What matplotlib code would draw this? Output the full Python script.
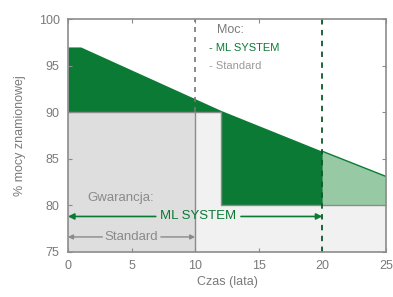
import matplotlib.pyplot as plt

# power curve of the ML SYSTEM module (% of rated power)
curve_years = [0, 1, 12, 20, 25]
ml_power = [97, 97, 90.2, 85.8, 83.1]

# guarantee levels
std_years = [0, 10, 25]
std_levels = [90, 80]
ml_years = [0, 12, 25]
ml_levels = [90, 80]
ml_arrow_end = 20

x_ticks = [0, 5, 10, 15, 20, 25]
y_ticks = [75, 80, 85, 90, 95, 100]

GREEN = "#0a7a34"
LIGHT_GREEN = "#96c9a4"
GRAY_DARK = "#dedede"
GRAY_LIGHT = "#f1f1f1"
EDGE = "#8c8c8c"
TEXT = "#7a7a7a"

plt.rcParams["font.family"] = ["Liberation Sans", "DejaVu Sans"]
plt.rcParams["font.size"] = 9

fig = plt.figure(figsize=(3.93, 2.97), dpi=100)
ax = fig.add_axes([0.173, 0.152, 0.809, 0.784])

# gray guarantee areas
ax.fill_between(std_years[0:2], 75, std_levels[0], color=GRAY_DARK, lw=0)
ax.fill_between([std_years[1], ml_years[1]], 75, ml_levels[0], color=GRAY_LIGHT, lw=0)
ax.fill_between(ml_years[1:3], 75, ml_levels[1], color=GRAY_LIGHT, lw=0)

# green surplus above ML guarantee
ax.fill_between(curve_years[0:3], ml_levels[0], ml_power[0:3], color=GREEN, lw=0)
ax.fill_between(curve_years[2:4], ml_levels[1], ml_power[2:4], color=GREEN, lw=0)
ax.fill_between(curve_years[3:5], ml_levels[1], ml_power[3:5], color=LIGHT_GREEN, lw=0)
ax.plot(curve_years[3:5], ml_power[3:5], color=GREEN, lw=1)

# guarantee outlines
ax.plot([ml_years[0], ml_years[1], ml_years[1], ml_years[2]],
        [ml_levels[0], ml_levels[0], ml_levels[1], ml_levels[1]], color=EDGE, lw=1)
ax.plot([std_years[1], std_years[1]], [75, std_levels[0]], color=EDGE, lw=1)

# dashed markers
ax.plot([std_years[1], std_years[1]], [std_levels[0], 100], color="#777777",
        lw=1.2, ls=(0, (3, 3)))
ax.plot([ml_arrow_end, ml_arrow_end], [75, 100], color="#0c5a2a",
        lw=1.3, ls=(0, (3, 3)))

# arrows
arrow_ml = dict(arrowstyle="-|>", color=GREEN, lw=1.2, mutation_scale=9,
                shrinkA=0, shrinkB=0)
ax.annotate("", xy=(0, 78.8), xytext=(6.9, 78.8), arrowprops=arrow_ml)
ax.annotate("", xy=(ml_arrow_end, 78.8), xytext=(13.6, 78.8), arrowprops=arrow_ml)
ax.text(10.25, 78.8, "ML SYSTEM", color=GREEN, ha="center", va="center", fontsize=9.5)

arrow_std = dict(arrowstyle="-|>", color="#8a8a8a", lw=1.0, mutation_scale=7,
                 shrinkA=0, shrinkB=0)
ax.annotate("", xy=(0, 76.6), xytext=(2.7, 76.6), arrowprops=arrow_std)
ax.annotate("", xy=(std_years[1], 76.6), xytext=(7.3, 76.6), arrowprops=arrow_std)
ax.text(5.0, 76.6, "Standard", color="#8a8a8a", ha="center", va="center", fontsize=9.5)

ax.text(1.5, 80.8, "Gwarancja:", color="#8a8a8a", ha="left", va="center", fontsize=9.5)

# legend text
ax.text(11.7, 98.8, "Moc:", color=TEXT, ha="left", va="center", fontsize=9)
ax.text(11.1, 96.9, "- ML SYSTEM", color=GREEN, ha="left", va="center", fontsize=8)
ax.text(11.1, 95.0, "- Standard", color="#9a9a9a", ha="left", va="center", fontsize=8)

ax.set_xlim(0, 25)
ax.set_ylim(75, 100)
ax.set_xticks(x_ticks)
ax.set_yticks(y_ticks)
ax.tick_params(direction="in", length=3, color=EDGE, labelcolor=TEXT,
               top=True, right=True, labelsize=9, pad=6)
for s in ax.spines.values():
    s.set_color(EDGE)
    s.set_linewidth(1.2)

ax.set_xlabel("Czas (lata)", color=TEXT, fontsize=9, labelpad=3)
ax.set_ylabel("% mocy znamionowej", color=TEXT, fontsize=9, labelpad=9)

fig.savefig("out.png", dpi=100)
